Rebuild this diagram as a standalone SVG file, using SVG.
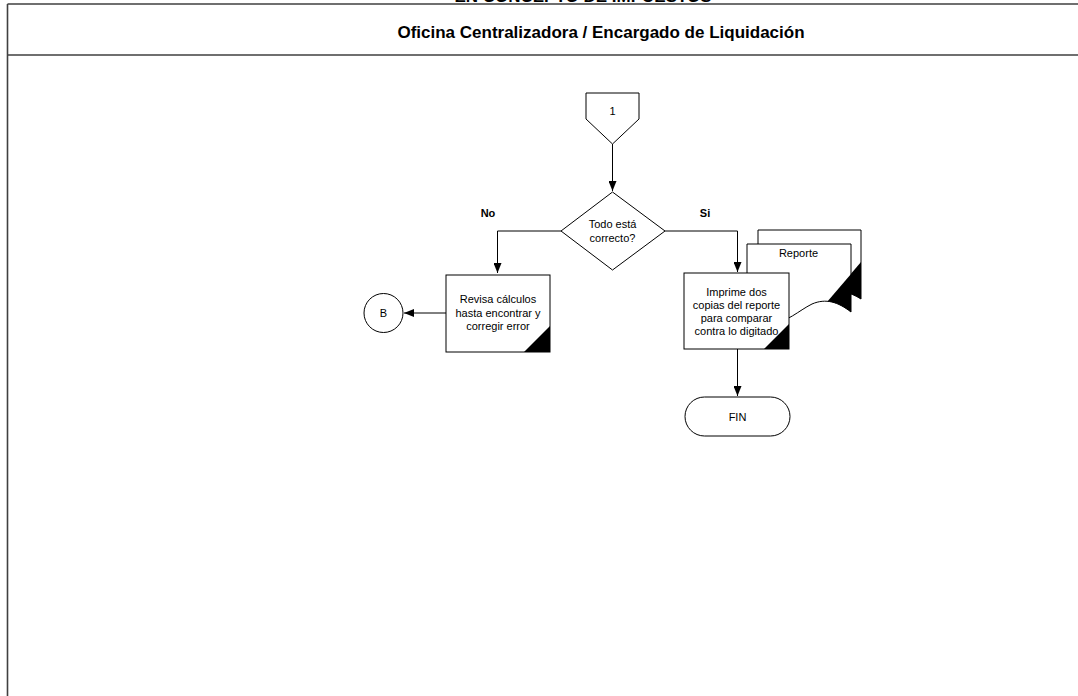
<svg xmlns="http://www.w3.org/2000/svg" width="1078" height="696" viewBox="0 0 1078 696">
<style>
text{font-family:"Liberation Sans",Arial,sans-serif;fill:#000}
.t{font-size:11px;text-anchor:middle}
.b{font-weight:bold}
.h{font-size:17px;font-weight:bold;text-anchor:middle}
.s{fill:#fff;stroke:#000;stroke-width:1}
.frame{stroke:#404040;stroke-width:1.6;fill:none}
.ln{fill:none;stroke:#000;stroke-width:1}
</style>
<defs>
<marker id="arr" markerWidth="10" markerHeight="8" refX="10" refY="4" orient="auto" markerUnits="userSpaceOnUse">
<path d="M0,0 L10,4 L0,8 Z" fill="#000"/>
</marker>
<clipPath id="cFront"><path d="M747,244 H851 V312 C838,302 826,298 812,304 C798,311 788,322 770,324 C760,325 752,322 747,320 Z"/></clipPath>
<clipPath id="cBack"><path d="M758,230 H861 V299 C850,292 840,290 830,294 L758,300 Z"/></clipPath>
</defs>
<rect width="1078" height="696" fill="#fff"/>
<g id="frame">
<text class="h" x="583" y="2">EN CONCEPTO DE IMPUESTOS</text>
<path class="frame" d="M7.5,4 H1078 M7.5,55 H1078 M7.5,4 V696"/>
<text class="h" x="601" y="38">Oficina Centralizadora / Encargado de Liquidación</text>
</g>
<g id="connectors">
<path class="ln" d="M612.5,144 V191" marker-end="url(#arr)"/>
<path class="ln" d="M561,231 H497.5 V273" marker-end="url(#arr)"/>
<path class="ln" d="M665,231 H737.5 V272" marker-end="url(#arr)"/>
<path class="ln" d="M446,313 H404" marker-end="url(#arr)"/>
<path class="ln" d="M737.5,349 V396" marker-end="url(#arr)"/>
<text class="t b" x="488" y="217">No</text>
<text class="t b" x="705" y="217">Si</text>
</g>
<g id="n1">
<path class="s" d="M586,93 H639 V119 L612.5,144 L586,119 Z"/>
<text class="t" x="612.5" y="115">1</text>
</g>
<g id="n2">
<path class="s" d="M612.5,192 L665,231 L612.5,270 L561,231 Z"/>
<text class="t" x="612.5" y="228">Todo está</text>
<text class="t" x="612.5" y="242">correcto?</text>
</g>
<g id="n3">
<rect class="s" x="446" y="275" width="104" height="77"/>
<path d="M550,326 V352 H524 Z" fill="#000"/>
<text class="t" x="498" y="303">Revisa cálculos</text>
<text class="t" x="498" y="316.5">hasta encontrar y</text>
<text class="t" x="498" y="330">corregir error</text>
</g>
<g id="n4">
<circle class="s" cx="383.5" cy="313" r="19.5"/>
<text class="t" x="383.5" y="317">B</text>
</g>
<g id="n5">
<path class="s" d="M758,230 H861 V299 C850,292 840,290 830,294 L758,300 Z"/>
<path d="M861,262 V310 H820 Z" fill="#000" clip-path="url(#cBack)"/>
<path class="s" d="M747,244 H851 V312 C838,302 826,298 812,304 C798,311 788,322 770,324 C760,325 752,322 747,320 Z"/>
<path d="M851,274 V330 H803 Z" fill="#000" clip-path="url(#cFront)"/>
<text class="t" x="798.5" y="257">Reporte</text>
</g>
<g id="n6">
<rect class="s" x="684" y="273" width="105" height="76"/>
<path d="M789,324 V349 H764 Z" fill="#000"/>
<text class="t" x="736.5" y="296">Imprime dos</text>
<text class="t" x="736.5" y="309">copias del reporte</text>
<text class="t" x="736.5" y="322">para comparar</text>
<text class="t" x="736.5" y="335">contra lo digitado</text>
</g>
<g id="n7">
<rect class="s" x="685" y="397" width="105" height="39" rx="19.5" ry="19.5"/>
<text class="t" x="737.5" y="421">FIN</text>
</g>
</svg>
